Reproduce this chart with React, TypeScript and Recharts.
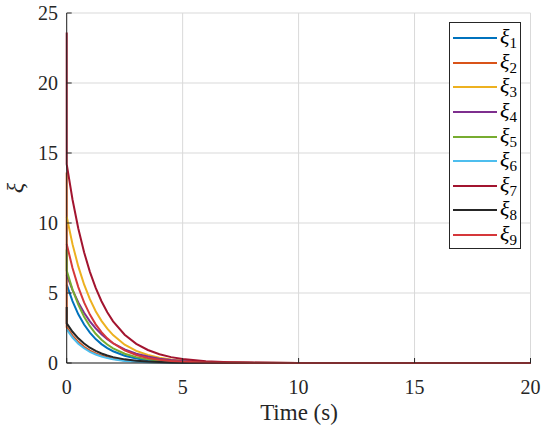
import React from 'react';
import { LineChart, Line, XAxis, YAxis, CartesianGrid, Legend } from 'recharts';

// time samples (s); t = 0 appears twice to draw the initial jump
const time = [0, 0, 0.25, 0.5, 0.75, 1, 1.25, 1.5, 1.75, 2, 2.5, 3, 3.5, 4, 4.5, 5, 6, 7, 8, 10, 12, 15, 20];

const xi1 = [5.6, 5.6, 4.42, 3.48, 2.75, 2.17, 1.71, 1.35, 1.06, 0.84, 0.52, 0.32, 0.2, 0.125, 0.078, 0.048, 0.019, 0.007, 0.003, 0, 0, 0, 0];
const xi2 = [13.6, 2.55, 1.96, 1.51, 1.16, 0.89, 0.69, 0.53, 0.41, 0.31, 0.18, 0.11, 0.065, 0.038, 0.023, 0.013, 0.005, 0.002, 0.001, 0, 0, 0, 0];
const xi3 = [10.45, 10.45, 8.49, 6.9, 5.61, 4.56, 3.7, 3.01, 2.45, 1.99, 1.31, 0.87, 0.57, 0.38, 0.25, 0.165, 0.072, 0.031, 0.014, 0.003, 0.0005, 0, 0];
const xi4 = [6.3, 6.3, 5.22, 4.33, 3.59, 2.98, 2.47, 2.05, 1.7, 1.41, 0.97, 0.66, 0.46, 0.31, 0.22, 0.15, 0.07, 0.033, 0.016, 0.003, 0.0008, 0, 0];
const xi5 = [8.1, 6.6, 5.24, 4.17, 3.31, 2.63, 2.09, 1.66, 1.32, 1.05, 0.66, 0.42, 0.26, 0.17, 0.105, 0.066, 0.026, 0.011, 0.004, 0, 0, 0, 0];
const xi6 = [2.4, 2.4, 1.82, 1.38, 1.05, 0.8, 0.61, 0.46, 0.35, 0.27, 0.15, 0.089, 0.051, 0.03, 0.017, 0.01, 0.003, 0.001, 0, 0, 0, 0, 0];
const xi7 = [23.6, 14.2, 11.68, 9.61, 7.91, 6.51, 5.36, 4.41, 3.63, 2.98, 2.02, 1.37, 0.93, 0.63, 0.42, 0.29, 0.13, 0.061, 0.028, 0.006, 0.0013, 0, 0];
const xi8 = [4.0, 2.83, 2.23, 1.76, 1.39, 1.09, 0.86, 0.68, 0.54, 0.42, 0.26, 0.16, 0.1, 0.063, 0.039, 0.024, 0.0095, 0.0037, 0.0014, 0, 0, 0, 0];
const xi9 = [8.5, 8.5, 6.79, 5.42, 4.33, 3.46, 2.76, 2.2, 1.76, 1.41, 0.9, 0.57, 0.36, 0.23, 0.15, 0.094, 0.038, 0.016, 0.006, 0, 0, 0, 0];

const seriesNames = ['ξ1', 'ξ2', 'ξ3', 'ξ4', 'ξ5', 'ξ6', 'ξ7', 'ξ8', 'ξ9'];
const seriesColors = ['#0072BD', '#D95319', '#EDB120', '#7E2F8E', '#77AC30', '#4DBEEE', '#A2142F', '#262626', '#D5373A'];
const seriesValues = [xi1, xi2, xi3, xi4, xi5, xi6, xi7, xi8, xi9];

const xTicks = [0, 5, 10, 15, 20];
const yTicks = [0, 5, 10, 15, 20, 25];

const rows = time.map((t, i) => {
  const r: Record<string, number> = { t };
  seriesValues.forEach((vals, j) => {
    r['s' + (j + 1)] = vals[i];
  });
  return r;
});

const FONT = '"Times New Roman", Times, "Liberation Serif", serif';
const AXIS = '#262626';

const renderLegend = (props: any) => {
  const payload = props.payload || [];
  return (
    <div
      style={{
        boxSizing: 'border-box',
        width: 72,
        height: 227,
        border: `1px solid ${AXIS}`,
        background: '#fff',
        paddingTop: 3,
        fontFamily: FONT,
        color: '#000',
      }}
    >
      {payload.map((p: any) => (
        <div key={p.value} style={{ height: 24.6, display: 'flex', alignItems: 'center' }}>
          <div style={{ marginLeft: 3, width: 44, height: 0, borderTop: `2px solid ${p.color}` }} />
          <span style={{ marginLeft: 3, fontSize: 22, lineHeight: '20px', whiteSpace: 'nowrap' }}>
            <span style={{ fontStyle: 'italic' }}>{String(p.value).slice(0, 1)}</span>
            <span style={{ fontSize: 15, position: 'relative', top: 4 }}>{String(p.value).slice(1)}</span>
          </span>
        </div>
      ))}
    </div>
  );
};

const XTick = (props: any) => (
  <text
    x={props.x}
    y={props.y}
    dy={14.5}
    textAnchor="middle"
    style={{ fontFamily: FONT, fontSize: 20, fill: AXIS }}
  >
    {String(props.payload?.value)}
  </text>
);

const YTick = (props: any) => (
  <text
    x={props.x}
    y={props.y}
    dy={7}
    textAnchor="end"
    style={{ fontFamily: FONT, fontSize: 20, fill: AXIS }}
  >
    {String(props.payload?.value)}
  </text>
);

export default function App() {
  return (
    <div
      style={{
        position: 'absolute',
        left: 0,
        top: 0,
        width: 550,
        height: 434,
        background: '#fff',
        fontFamily: FONT,
      }}
    >
      <LineChart
        width={550}
        height={434}
        data={rows}
        margin={{ top: 13, right: 19.5, bottom: 41, left: 0 }}
      >
        <CartesianGrid xAxisId="b" yAxisId="l" stroke="#d9d9d9" strokeWidth={1} />
        <XAxis
          xAxisId="b"
          dataKey="t"
          type="number"
          domain={[0, 20]}
          ticks={xTicks}
          interval={0}
          orientation="bottom"
          height={30}
          tickSize={-5}
          tickMargin={21}
          stroke={AXIS}
          tick={<XTick />}
          tickLine={{ stroke: AXIS }}
          axisLine={{ stroke: AXIS }}
          label={() => (
            <text x={299} y={420} textAnchor="middle" style={{ fontFamily: FONT, fontSize: 23, fill: AXIS }}>
              Time (s)
            </text>
          )}
        />
        <XAxis
          xAxisId="t"
          dataKey="t"
          type="number"
          domain={[0, 20]}
          ticks={xTicks}
          interval={0}
          orientation="top"
          height={0}
          tickSize={-5}
          stroke={AXIS}
          tickFormatter={() => ''}
          tickLine={{ stroke: AXIS }}
          axisLine={{ stroke: AXIS }}
        />
        <YAxis
          yAxisId="l"
          type="number"
          domain={[0, 25]}
          ticks={yTicks}
          interval={0}
          orientation="left"
          width={66.7}
          tickSize={-5}
          tickMargin={13.7}
          stroke={AXIS}
          tick={<YTick />}
          tickLine={{ stroke: AXIS }}
          axisLine={{ stroke: AXIS }}
          label={() => (
            <text
              x={23}
              y={188}
              textAnchor="middle"
              style={{ fontFamily: FONT, fontSize: 24, fontStyle: 'italic', fill: AXIS }}
              transform="rotate(-90 23 188)"
            >
              ξ
            </text>
          )}
        />
        <YAxis
          yAxisId="r"
          type="number"
          domain={[0, 25]}
          ticks={yTicks}
          interval={0}
          orientation="right"
          width={0}
          tickSize={-5}
          stroke={AXIS}
          tickFormatter={() => ''}
          tickLine={{ stroke: AXIS }}
          axisLine={{ stroke: AXIS }}
        />
        <Legend
          layout="vertical"
          align="center"
          verticalAlign="middle"
          wrapperStyle={{ left: 449, top: 22, width: 72, height: 227 }}
          content={renderLegend}
        />
        {seriesNames.map((name, j) => (
          <Line
            key={name}
            xAxisId="b"
            yAxisId="l"
            type="linear"
            dataKey={'s' + (j + 1)}
            name={name}
            stroke={seriesColors[j]}
            strokeWidth={2}
            dot={false}
            activeDot={false}
            legendType="line"
            isAnimationActive={false}
          />
        ))}
      </LineChart>
    </div>
  );
}
